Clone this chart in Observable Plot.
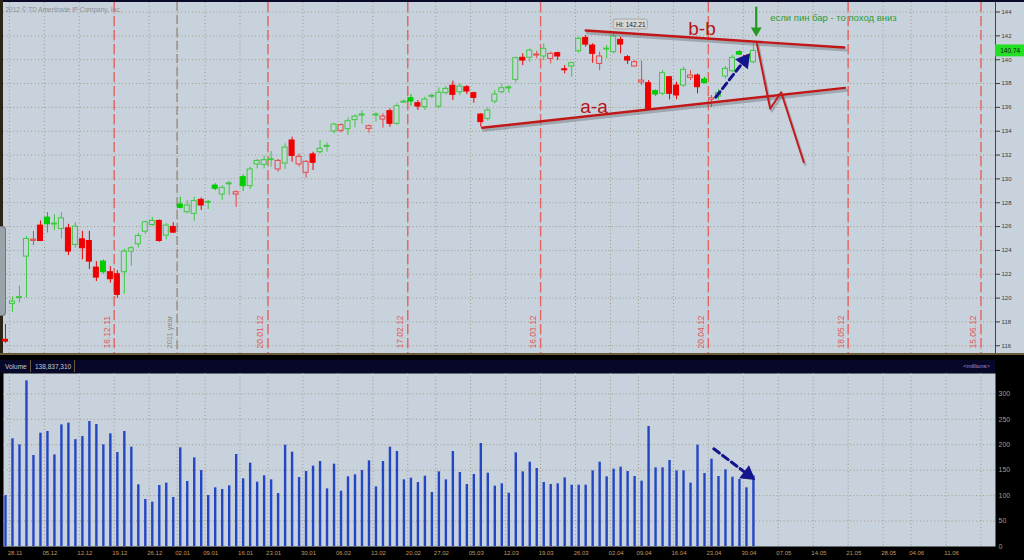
<!DOCTYPE html>
<html><head><meta charset="utf-8">
<script src="https://cdn.jsdelivr.net/npm/d3@7"></script>
<script src="https://cdn.jsdelivr.net/npm/@observablehq/plot@0.6"></script>
<style>
html,body{margin:0;padding:0;background:#000;}
#wrap{position:relative;width:1024px;height:560px;background:#000;overflow:hidden;font-family:"Liberation Sans",Arial,sans-serif;}
#wrap > *{position:absolute;}
#topline{left:0;top:0;width:1024px;height:2px;background:#0a0a28;}
#pricebg{left:3px;top:2px;width:1021px;height:351px;background:#c8d2dc;}
#leftcol{left:0;top:0;width:3px;height:354px;background:#2c2416;}
#handle{left:0;top:226px;width:5px;height:88px;background:#9aa2aa;border:1px solid #6f767d;border-left:none;border-radius:0 4px 4px 0;}
#divider{left:0;top:353px;width:1024px;height:2px;background:#6b5a3c;}
#hdr{left:0;top:360px;width:995px;height:13px;background:#07072a;color:#c9c9d2;font-size:6.5px;line-height:13px;}
#hdr .box{position:absolute;top:0;height:12px;border-right:1px solid #6b5a3c;padding:0 3px;}
#mil{position:absolute;right:5px;top:0;color:#b98cb9;font-size:6px;}
#top{left:0;top:0;}
#bottom{left:0;top:373px;}
</style></head><body>
<div id="wrap">
  <div id="topline"></div>
  <div id="pricebg"></div>
  <div id="leftcol"></div>
  <div id="divider"></div>
  <div id="hdr"><span class="box" style="left:2px">Volume</span><span class="box" id="volval" style="left:32px"></span><span id="mil">&lt;millions&gt;</span></div>
  <div id="top"></div>
  <div id="bottom"></div>
  <div id="handle"></div>
</div>
<script>
// ---- data: SPY daily, 25.11.2011 (day 0) ... 01.05.2012 (day 107) ----
const opens = [116.5,119.5,120.03,123.48,124.8,126.08,126.75,126.2,125.8,125.85,124.46,124.93,124.79,122.56,123.06,122.17,122.0,122.17,123.9,124.51,125.57,126.13,126.47,125.24,125.97,127.85,127.2,127.07,128.24,128.02,129.44,128.69,129.57,128.69,130.14,129.39,131.21,131.18,131.6,130.79,131.29,133.22,131.21,130.51,132.05,132.24,132.72,133.98,134.03,134.17,134.93,135.35,134.2,135.35,134.98,135.68,134.62,136.43,136.77,136.35,136.02,136.92,136.07,137.19,137.81,137.27,137.69,137.19,135.4,135.04,136.49,137.27,137.62,138.31,140.16,140.16,140.35,140.27,140.07,140.55,139.16,139.43,140.71,141.83,141.19,139.65,140.88,140.63,141.67,140.21,139.43,138.09,138.03,137.36,137.14,138.53,137.83,137.83,138.48,138.67,138.34,136.63,136.9,138.59,139.04,140.63,140.3,139.79];
const highs = [117.8,120.1,121.0,125.16,125.6,126.47,127.17,127.0,127.17,126.19,126.33,125.6,125.6,123.06,123.2,122.64,122.31,124.1,124.32,125.43,126.47,126.78,126.55,126.27,126.33,128.46,128.19,128.46,128.41,128.19,129.6,129.44,129.78,129.0,130.34,130.98,131.63,131.91,132.3,131.63,132.94,133.5,132.1,131.54,132.24,133.22,133.02,134.67,134.62,135.12,135.37,135.71,134.53,135.54,135.46,135.88,136.3,136.63,137.08,136.58,136.86,137.13,137.64,137.75,138.2,137.97,137.83,137.27,135.46,135.96,137.41,137.97,137.83,140.21,140.49,140.91,140.71,141.33,140.63,140.63,139.51,139.79,141.89,142.03,141.33,140.63,141.19,142.21,141.89,140.35,139.93,139.88,138.25,137.47,139.09,138.59,138.11,139.37,139.09,138.81,138.53,137.0,137.5,139.43,140.35,140.77,140.4,141.47];
const lows = [116.2,118.8,119.6,119.99,124.4,124.73,125.46,125.66,124.96,123.56,124.18,123.2,122.4,121.39,122.0,121.25,119.99,120.32,122.67,124.18,125.35,125.99,124.68,124.88,125.43,127.49,127.07,126.45,127.35,127.43,129.0,128.19,128.6,127.6,128.94,129.11,130.84,130.84,130.98,130.56,130.79,131.4,130.98,130.06,130.7,132.1,132.24,133.78,133.86,133.64,134.28,134.62,133.83,134.76,134.25,134.34,134.48,136.35,136.07,135.74,135.74,136.72,135.88,137.05,136.58,136.99,137.08,136.35,134.34,134.84,136.3,137.13,137.19,138.03,139.51,139.79,140.07,139.93,139.65,139.93,138.81,138.53,140.55,141.05,139.71,139.09,140.07,140.49,140.49,139.6,139.37,137.83,135.74,136.91,136.99,136.63,136.63,137.69,138.25,137.14,137.97,136.0,136.6,138.39,138.95,140.35,139.6,139.65];
const closes = [116.35,119.7,120.05,124.96,124.9,124.79,126.19,126.22,126.69,123.9,125.99,124.18,123.06,121.72,122.17,121.58,120.27,123.9,124.18,125.21,126.36,126.47,124.79,126.08,125.49,127.57,127.77,128.13,127.77,128.04,129.17,129.25,129.59,128.88,129.39,130.79,131.51,131.57,131.63,131.51,132.63,131.93,131.85,131.43,131.35,132.52,132.74,134.56,134.51,134.84,135.23,135.37,134.42,135.37,135.23,134.62,136.1,136.45,136.49,136.07,136.66,136.94,137.22,137.55,137.05,137.75,137.33,136.8,134.76,135.74,137.08,137.61,137.64,140.13,139.93,140.77,140.43,140.91,140.49,140.27,139.15,139.71,141.75,141.27,140.49,140.27,140.91,141.95,141.27,139.93,139.79,138.25,135.79,137.08,138.87,137.14,137.0,139.15,138.67,137.69,138.03,136.77,137.2,139.23,140.16,140.43,139.86,140.74];
// volume, millions
const volumes = [100,211.6,199.8,325.5,178.8,222.7,226,180,239,242.4,210,216,245.6,239.7,199.8,221.4,184.7,226,195.2,121.2,92.4,87.1,119.9,124.5,96.3,193.9,127.7,174.2,149.3,100.2,115.3,112,119.2,180.8,133,163.8,126.4,138.9,131,104.1,199.1,185.4,135.6,147.4,157.9,167,113.3,161.8,108.7,136.9,140.8,149.3,168.3,117.2,167,195.2,186.7,131,134.3,125.8,138.2,106.1,146.7,131,186.7,145.4,121.8,141.5,202.4,144.1,118.6,123.1,104.8,184,146.7,165.7,153.3,125.8,121.8,123.1,134.9,120.5,120.5,120.5,148.7,165.7,136.9,152,155.9,147.4,137.6,128.4,235.8,154.6,154.6,169,148.7,148.7,124.5,199.1,143.4,171.6,137.6,150.7,136.2,131.7,115.3,138.8];
const lastVolume = 138837310;
// weekly axis: label and trading-day index of the week's first session
const weekLabels = ["28.11","05.12","12.12","19.12","26.12","02.01","09.01","16.01","23.01","30.01","06.02","13.02","20.02","27.02","05.03","12.03","19.03","26.03","02.04","09.04","16.04","23.04","30.04","07.05","14.05","21.05","28.05","04.06","11.06",""];
const weekStartDay = [1,6,11,16,21,25,29,34,38,43,48,53,58,62,67,72,77,82,87,91,96,101,106,111,116,121,126,130,135,140];
// option-expiration markers (Friday trading-day index)
const expiryLabels = ["16.12.11","20.01.12","17.02.12","16.03.12","20.04.12","18.05.12","15.06.12"];
const expiryDay = [15,37,57,76,100,120,139];
const yearLabel = "2011 year";
const yearDay = 24;
const priceTicks = [116,118,120,122,124,126,128,130,132,134,136,138,140,142,144];
const volTicks = [0,50,100,150,200,250,300];
// hand-drawn annotations [day, price]
const lineBB = [[83.0,142.45],[120.0,141.02]];
const lineAA = [[68.2,134.29],[120.1,137.64]];
const projection = [[107.5,141.33],[109.4,135.88],[110.97,137.27],[114.2,131.4]];
const blueArrowPrice = [[101.6,136.85],[105.7,139.93]];
const blueArrowVolume = [[101.33,192],[106.2,141.5]];
const greenArrow = [[107.4,144.38],[107.4,142.75]];
const greenHead = [107.4,142.45];
const textBB = {text:"b-b", day:99.64, price:142.59};
const textAA = {text:"a-a", day:84.2, price:136.07};
const noteRu = {text:"если пин бар - то поход вниз", day:109.4, price:143.5};
const copyright = "2012 © TD Ameritrade IP Company, Inc.";

// ---- rendering ----
const bg = "#c8d2dc";
const gridC = "#a39a8a";
const font = "'Liberation Sans', Arial, sans-serif";
const xDomain = [-0.286, 141.63];
const yDomain = [115.35, 144.8];
const vDomain = [0, 340];
const pxPerDay = (1024 - 3 - 29) / (xDomain[1] - xDomain[0]);
const pxPerPrice = (354 - 2 - 1) / (yDomain[1] - yDomain[0]);
const pxPerVol = (187 - 14) / (vDomain[1] - vDomain[0]);
const angle = (a, b, pxY) => Math.atan2((b[0]-a[0]) * pxPerDay, (b[1]-a[1]) * pxY) * 180 / Math.PI;

const candles = closes.map((c, i) => {
  const o = opens[i], prev = i ? closes[i-1] : o;
  const up = c >= prev, hollow = c > o;
  const color = up ? (hollow ? "#3fc83f" : "#00cc00") : (hollow ? "#e84646" : "#ee0000");
  const lo = Math.min(o, c), hi = Math.max(o, c);
  const small = hi - lo < 0.08;
  return {i, o, h: highs[i], l: lows[i], c, color, fill: hollow ? bg : color,
          b1: small ? (lo+hi)/2 - 0.04 : lo, b2: small ? (lo+hi)/2 + 0.04 : hi};
});
const hiIdx = d3.maxIndex(highs);
const hiVal = highs[hiIdx];
const last = closes[closes.length - 1];
const expiries = expiryDay.map((d, k) => ({day: d, label: expiryLabels[k]}));

const topPlot = Plot.plot({
  width: 1024, height: 354,
  marginLeft: 3, marginRight: 29, marginTop: 2, marginBottom: 1,
  style: {background: "transparent", fontFamily: font, fontSize: "6px", color: "#3a3a3a", overflow: "visible"},
  x: {domain: xDomain, axis: null},
  y: {domain: yDomain, axis: "right", ticks: priceTicks, tickSize: 4, tickPadding: 2, tickFormat: d => String(d), label: null},
  marks: [
    Plot.ruleY(priceTicks, {stroke: gridC, strokeDasharray: "1,2.5"}),
    Plot.ruleX(weekStartDay, {x: d => d - 0.45, stroke: gridC, strokeDasharray: "1,2.5"}),
    Plot.ruleX([yearDay], {x: d => d + 0.55, stroke: "#9c9282", strokeWidth: 1.5, strokeDasharray: "9,4"}),
    Plot.ruleX(expiries, {x: d => d.day + 0.55, stroke: "#e46464", strokeWidth: 1.4, strokeDasharray: "10,4"}),
    Plot.text(expiries, {x: d => d.day + 0.55, text: "label", frameAnchor: "bottom", rotate: -90, textAnchor: "start", dx: -4.5, dy: -5, fill: "#e25a5a", fontSize: 8.5}),
    Plot.text([yearLabel], {x: () => yearDay + 0.55, text: d => d, frameAnchor: "bottom", rotate: -90, textAnchor: "start", dx: -5, dy: -5, fill: "#8e8676", fontSize: 7.5}),
    Plot.ruleX(candles, {x: "i", y1: "l", y2: "h", stroke: "color", strokeWidth: 1}),
    Plot.rect(candles, {x1: d => d.i - 0.36, x2: d => d.i + 0.36, y1: "b1", y2: "b2", fill: "fill", stroke: "color", strokeWidth: 1}),
    // annotation lines with soft shadow
    Plot.line(lineBB, {x: d => d[0], y: d => d[1], stroke: "#60646c", strokeOpacity: 0.4, strokeWidth: 3, dx: 1.5, dy: 2.5}),
    Plot.line(lineAA, {x: d => d[0], y: d => d[1], stroke: "#60646c", strokeOpacity: 0.4, strokeWidth: 3, dx: 1.5, dy: 2.5}),
    Plot.line(projection, {x: d => d[0], y: d => d[1], stroke: "#60646c", strokeOpacity: 0.35, strokeWidth: 2.5, dx: 1.5, dy: 2.5}),
    Plot.line(lineBB, {x: d => d[0], y: d => d[1], stroke: "#c01818", strokeWidth: 2.4}),
    Plot.line(lineAA, {x: d => d[0], y: d => d[1], stroke: "#c01818", strokeWidth: 2.4}),
    Plot.line(projection, {x: d => d[0], y: d => d[1], stroke: "#c41c1c", strokeWidth: 2}),
    Plot.line(blueArrowPrice, {x: d => d[0], y: d => d[1], stroke: "#14148c", strokeWidth: 3, strokeDasharray: "7,4"}),
    Plot.dot([blueArrowPrice[1]], {x: d => d[0], y: d => d[1], symbol: "triangle", r: 6, fill: "#14148c", stroke: "none", rotate: angle(blueArrowPrice[0], blueArrowPrice[1], pxPerPrice)}),
    Plot.line(greenArrow, {x: d => d[0], y: d => d[1], stroke: "#229a22", strokeWidth: 2.2}),
    Plot.dot([greenHead], {x: d => d[0], y: d => d[1], symbol: "triangle", r: 4, fill: "#229a22", stroke: "none", rotate: 180}),
    Plot.text([textBB, textAA], {x: "day", y: "price", text: "text", fill: "#b81414", fontSize: 19}),
    Plot.text([noteRu], {x: "day", y: "price", text: "text", textAnchor: "start", fill: "#2f9a2f", fontSize: 9.5}),
    Plot.rect([hiVal], {x1: () => hiIdx, x2: () => hiIdx + 4.9, y1: d => d + 0.33, y2: d => d + 1.16, fill: "#d6d6d6", stroke: "#a8a8a8", rx: 2}),
    Plot.text([hiVal], {x: () => hiIdx + 2.45, y: d => d + 0.745, text: d => "Hi: " + d.toFixed(2), fill: "#222", fontSize: 6.5}),
    Plot.text([copyright], {frameAnchor: "top-left", text: d => d, dx: 2, dy: 5, fill: "#8a8f96", fontSize: 6.5}),
    Plot.ruleX([xDomain[1]], {stroke: "#4c4232"}),
    Plot.rect([last], {x1: () => xDomain[1], x2: () => xDomain[1] + 4.2, y1: d => d - 0.5, y2: d => d + 0.5, fill: "#22e022"}),
    Plot.text([last], {x: () => xDomain[1] + 2.1, y: d => d, text: d => d.toFixed(2), fill: "#111", fontSize: 6.5})
  ]
});
document.getElementById("top").appendChild(topPlot);

const bottomPlot = Plot.plot({
  width: 1024, height: 187,
  marginLeft: 3, marginRight: 29, marginTop: 0, marginBottom: 14,
  style: {background: "transparent", fontFamily: font, fontSize: "7px", color: "#a69c84", overflow: "visible"},
  x: {domain: xDomain, axis: null},
  y: {domain: vDomain, axis: "right", ticks: volTicks, tickSize: 0, tickPadding: 3, tickFormat: d => String(d), label: null},
  marks: [
    Plot.frame({fill: bg}),
    Plot.ruleY(volTicks.filter(v => v > 0), {stroke: gridC, strokeDasharray: "1,2.5"}),
    Plot.ruleX(weekStartDay, {x: d => d - 0.45, stroke: gridC, strokeDasharray: "1,2.5"}),
    Plot.ruleX(volumes, {x: (d, i) => i, y1: 0, y2: d => d, stroke: "#2346c4", strokeWidth: 2.4}),
    Plot.line(blueArrowVolume, {x: d => d[0], y: d => d[1], stroke: "#14148c", strokeWidth: 3, strokeDasharray: "7,4"}),
    Plot.dot([blueArrowVolume[1]], {x: d => d[0], y: d => d[1], symbol: "triangle", r: 6, fill: "#14148c", stroke: "none", rotate: angle(blueArrowVolume[0], blueArrowVolume[1], pxPerVol)}),
    Plot.text(weekLabels, {x: (d, i) => weekStartDay[i] + 0.35, text: d => d, frameAnchor: "bottom", dy: 8, fill: "#c09a5e", fontSize: 6})
  ]
});
document.getElementById("bottom").appendChild(bottomPlot);
document.getElementById("volval").textContent = d3.format(",")(lastVolume);
</script>
</body></html>
